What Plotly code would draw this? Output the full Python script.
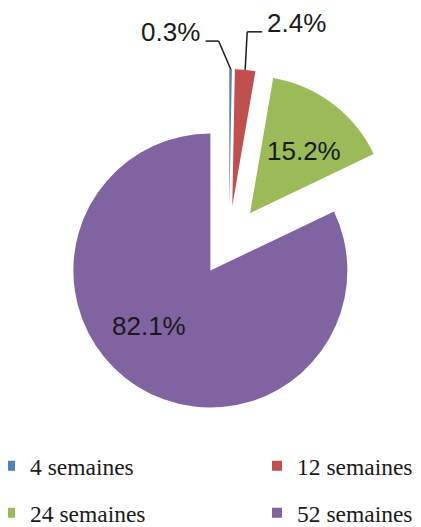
import math
import plotly.graph_objects as go

labels = ["4 semaines", "12 semaines", "24 semaines", "52 semaines"]
values = [0.3, 2.4, 15.2, 82.1]
colors = ["#4F81BD", "#C0504D", "#9BBB59", "#8064A2"]
pull = 0.255

# the page body adds an 8px margin, so the figure is drawn 8px smaller
OFF = 8
W, H = 421 - OFF, 527 - OFF

# pie placement in page pixels: center and radius
cx, cy, r = 229, 241, 137


def px(x):
    return (x - OFF) / W


def py(y):
    return 1 - (y - OFF) / H


box = r * (2 + 2 * pull)
dom_x = [px(cx - box / 2), px(cx + box / 2)]
dom_y = [py(cy + box / 2), py(cy - box / 2)]

label_font = dict(family="Liberation Sans", size=26, color="#1a1a1a")
legend_font = dict(family="Liberation Serif", size=23.5, color="#1a1a1a")

fig = go.Figure()
fig.add_trace(go.Pie(
    labels=labels, values=values, sort=False, direction="clockwise",
    rotation=0, pull=[pull] * 4,
    marker=dict(colors=colors, line=dict(width=0)),
    textinfo="none", showlegend=False, hoverinfo="label+percent",
    domain=dict(x=dom_x, y=dom_y),
))

# slice geometry
total = sum(values)
start = 0.0
tips, centers, mids = [], [], []
for v in values:
    mid = (start + v / 2) / total * 2 * math.pi
    d = r * pull
    rr = r * (1 + pull)
    mids.append(mid)
    centers.append((cx + d * math.sin(mid), cy - d * math.cos(mid)))
    tips.append((cx + rr * math.sin(mid), cy - rr * math.cos(mid)))
    start += v

# outside labels with elbow connectors for the small slices
small = [
    # (index, elbow offset, horizontal run, side)
    (0, (-12, -28), -13, "right"),
    (1, (2, -38), 15, "left"),
]
for idx, (ex, ey), run, anchor in small:
    tx, ty = tips[idx]
    bx, by = tx + ex, ty + ey
    endx = bx + run
    for (x1, y1, x2, y2) in [(tx, ty, bx, by), (bx, by, endx, by)]:
        fig.add_shape(type="line", xref="paper", yref="paper",
                      x0=px(x1), y0=py(y1), x1=px(x2), y1=py(y2),
                      line=dict(color="#1a1a1a", width=1.5), layer="above")
    lx = endx - 4 if anchor == "right" else endx + 3
    fig.add_annotation(x=px(lx), y=py(by - 9), xref="paper", yref="paper",
                       text=f"{values[idx]:.1f}%", showarrow=False,
                       xanchor=anchor, yanchor="middle", font=label_font)

# labels inside the two big slices
inside = [(2, math.degrees(mids[2]) + 4), (3, 228)]
for idx, deg in inside:
    scx, scy = centers[idx]
    ang = math.radians(deg)
    fig.add_annotation(x=px(scx + 0.6 * r * math.sin(ang)),
                       y=py(scy - 0.6 * r * math.cos(ang)),
                       xref="paper", yref="paper", text=f"{values[idx]:.1f}%",
                       xanchor="center", yanchor="middle",
                       showarrow=False, font=label_font)

# legend entries, two columns (page pixels of the legend box left / row middle)
legend_pos = [(-10, 466), (257, 466), (-10, 513), (257, 513)]
for i, (lab, col) in enumerate(zip(labels, colors)):
    name = "legend" if i == 0 else f"legend{i + 1}"
    fig.add_trace(go.Scatter(
        x=[None], y=[None], mode="markers", name=lab, legend=name,
        marker=dict(symbol="square", size=10, color=col),
    ))

legends = {}
for i, (lx, ly) in enumerate(legend_pos):
    name = "legend" if i == 0 else f"legend{i + 1}"
    legends[name] = dict(x=px(lx), y=py(ly), xanchor="left", yanchor="middle",
                         font=legend_font, bgcolor="rgba(0,0,0,0)",
                         itemwidth=30)

fig.update_layout(
    width=W, height=H,
    margin=dict(l=0, r=0, t=0, b=0, autoexpand=False),
    paper_bgcolor="white", plot_bgcolor="white",
    xaxis=dict(visible=False), yaxis=dict(visible=False),
    **legends,
)

fig.write_html("out.html")
